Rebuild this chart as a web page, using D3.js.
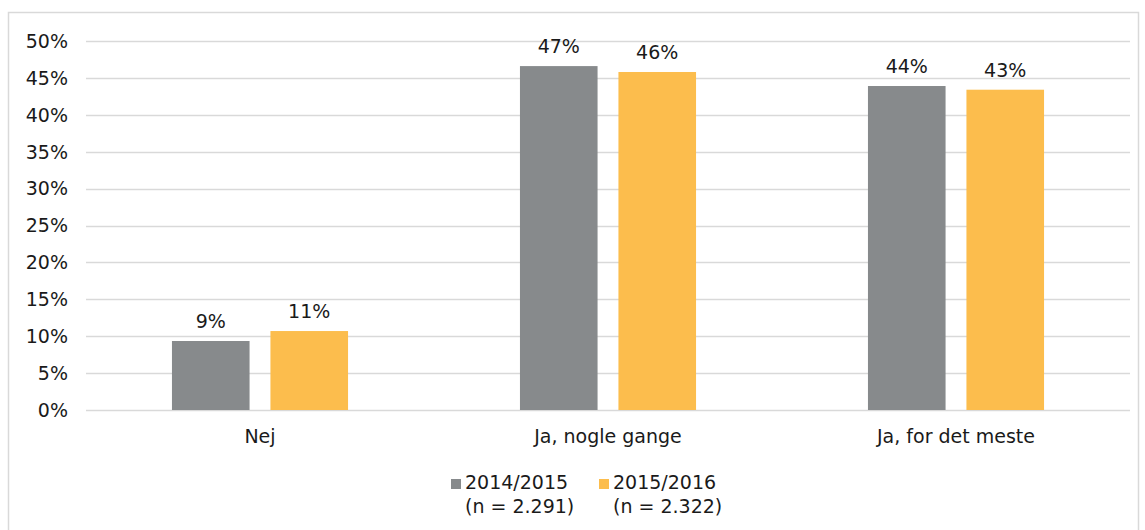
<!DOCTYPE html>
<html>
<head>
<meta charset="utf-8">
<script src="https://cdn.jsdelivr.net/npm/d3@7"></script>
<style>
  body { margin: 0; background: #fff; }
  text { font-family: "DejaVu Sans", Verdana, sans-serif; fill: #1a1a1a; }
</style>
</head>
<body>
<script>
const categories = ["Nej", "Ja, nogle gange", "Ja, for det meste"];
const seriesNames = ["2014/2015", "2015/2016"];
const seriesNotes = ["(n = 2.291)", "(n = 2.322)"];
const values2014 = [9.35, 46.6, 43.9];
const values2015 = [10.7, 45.8, 43.4];
const labels2014 = ["9%", "47%", "44%"];
const labels2015 = ["11%", "46%", "43%"];
const yTicks = [0, 5, 10, 15, 20, 25, 30, 35, 40, 45, 50];
const colors = ["#878a8c", "#fcbd4d"];

var width = 1145, height = 530;
var fs = 19;

var svg = d3.select("body").append("svg")
	.attr("width", width)
	.attr("height", height);

// outer frame
svg.append("rect")
	.attr("x", 8.5).attr("y", 12.5)
	.attr("width", 1130).attr("height", 530)
	.attr("fill", "none")
	.attr("stroke", "#d9d9d9")
	.attr("stroke-width", 1.5);

var x = d3.scaleBand().domain(categories).range([86, 1130]);
var y = d3.scaleLinear().domain([0, 50]).range([410, 41]);
var bw = x.bandwidth();
var xs = d3.scaleBand().domain(seriesNames).range([bw * 0.247, bw * 0.753]).paddingInner(0.212);

// gridlines
svg.append("g")
	.selectAll("line")
	.data(yTicks)
	.enter()
	.append("line")
	.attr("x1", 86).attr("x2", 1130)
	.attr("y1", (d) => Math.round(y(d)) + 0.5)
	.attr("y2", (d) => Math.round(y(d)) + 0.5)
	.attr("stroke", "#d9d9d9")
	.attr("stroke-width", 1.5);

// y tick labels
svg.append("g")
	.selectAll("text")
	.data(yTicks)
	.enter()
	.append("text")
	.attr("x", 68)
	.attr("y", (d) => y(d))
	.attr("dy", "0.36em")
	.attr("text-anchor", "end")
	.style("font-size", fs + "px")
	.text((d) => d + "%");

var rows = categories.map((c, i) => ({
	cat: c,
	vals: [
		{ s: seriesNames[0], v: values2014[i], lab: labels2014[i], col: colors[0] },
		{ s: seriesNames[1], v: values2015[i], lab: labels2015[i], col: colors[1] },
	],
}));

var groups = svg.append("g")
	.selectAll("g")
	.data(rows)
	.enter()
	.append("g")
	.attr("transform", (d) => "translate(" + x(d.cat) + ",0)");

groups.selectAll("rect")
	.data((d) => d.vals)
	.enter()
	.append("rect")
	.attr("x", (d) => xs(d.s))
	.attr("width", xs.bandwidth())
	.attr("y", (d) => y(d.v))
	.attr("height", (d) => y(0) - y(d.v))
	.attr("fill", (d) => d.col);

groups.selectAll("text")
	.data((d) => d.vals)
	.enter()
	.append("text")
	.attr("x", (d) => xs(d.s) + xs.bandwidth() / 2)
	.attr("y", (d) => y(d.v) - 13)
	.attr("text-anchor", "middle")
	.style("font-size", fs + "px")
	.text((d) => d.lab);

// category labels
svg.append("g")
	.selectAll("text")
	.data(categories)
	.enter()
	.append("text")
	.attr("x", (d) => x(d) + bw / 2)
	.attr("y", 443)
	.attr("text-anchor", "middle")
	.style("font-size", fs + "px")
	.text((d) => d);

// legend
var legendX = [451, 599];
var legend = svg.append("g")
	.selectAll("g")
	.data(seriesNames)
	.enter()
	.append("g")
	.attr("transform", (d, i) => "translate(" + legendX[i] + ",0)");

legend.append("rect")
	.attr("x", 0).attr("y", 479)
	.attr("width", 10).attr("height", 10)
	.attr("fill", (d, i) => colors[i]);

legend.append("text")
	.attr("x", 14).attr("y", 489)
	.style("font-size", fs + "px")
	.text((d) => d);

legend.append("text")
	.attr("x", 14).attr("y", 513)
	.style("font-size", fs + "px")
	.text((d, i) => seriesNotes[i]);
</script>
</body>
</html>
